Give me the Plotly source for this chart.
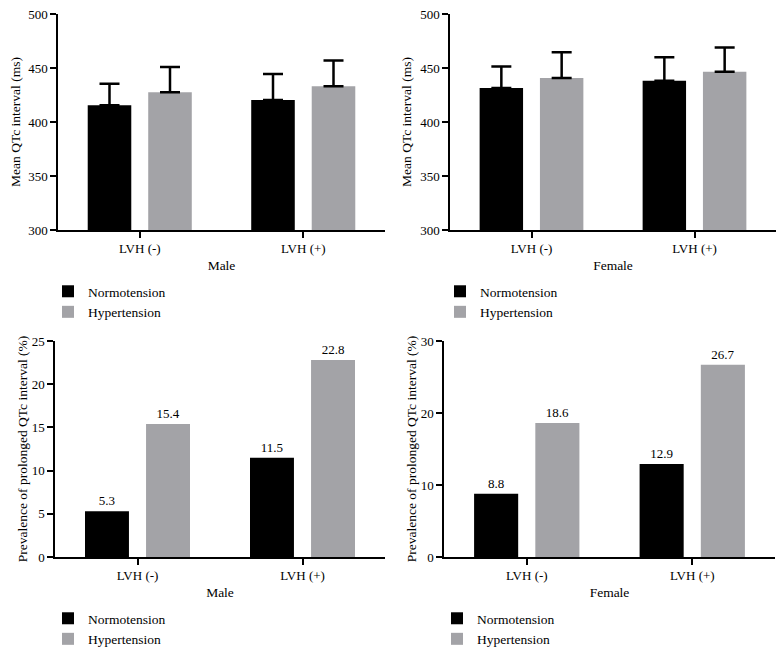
import plotly.graph_objects as go

categories = ["LVH (-)", "LVH (+)"]

# mean QTc interval (ms) with SD (upper error bar only)
male_qtc_normo = [415.5, 420.4]
male_qtc_normo_sd = [20.0, 24.0]
male_qtc_hyper = [427.5, 433.0]
male_qtc_hyper_sd = [23.5, 24.0]
female_qtc_normo = [431.5, 438.3]
female_qtc_normo_sd = [20.0, 21.7]
female_qtc_hyper = [440.7, 446.6]
female_qtc_hyper_sd = [23.8, 22.4]

# prevalence of prolonged QTc interval (%)
male_prev_normo = [5.3, 11.5]
male_prev_hyper = [15.4, 22.8]
female_prev_normo = [8.8, 12.9]
female_prev_hyper = [18.6, 26.7]

BLACK = "#000000"
GRAY = "#A3A3A7"
FONT = "'Liberation Serif', 'Times New Roman', serif"

# the page body has an 8px margin, so the figure is drawn 8px in from the corner
OFF = 8
W, H = 784 - OFF, 655 - OFF


def dom_x(a, b):
    return [(a - OFF) / W, (b - OFF) / W]


def dom_y(top, bottom):
    return [1 - (bottom - OFF) / H, 1 - (top - OFF) / H]


def leg_pos(px, py):
    return dict(x=(px - OFF) / W, y=1 - (py - OFF) / H)


fig = go.Figure()

panels = [
    # xaxis, yaxis, legend, normo, normo_sd, hyper, hyper_sd, labels
    ("x", "y", "legend", male_qtc_normo, male_qtc_normo_sd, male_qtc_hyper, male_qtc_hyper_sd, False),
    ("x2", "y2", "legend2", female_qtc_normo, female_qtc_normo_sd, female_qtc_hyper, female_qtc_hyper_sd, False),
    ("x3", "y3", "legend3", male_prev_normo, None, male_prev_hyper, None, True),
    ("x4", "y4", "legend4", female_prev_normo, None, female_prev_hyper, None, True),
]

for xa, ya, lg, normo, normo_sd, hyper, hyper_sd, labels in panels:
    for name, vals, sd, color in [("Normotension", normo, normo_sd, BLACK),
                                  ("Hypertension", hyper, hyper_sd, GRAY)]:
        tr = dict(
            x=categories, y=vals, name=name, marker=dict(color=color, line=dict(width=0)),
            xaxis=xa, yaxis=ya, legend=lg,
        )
        if sd is not None:
            tr["error_y"] = dict(type="data", symmetric=False, array=sd,
                                 arrayminus=[0] * len(sd), color=BLACK,
                                 thickness=2.5, width=10)
        if labels:
            tr["text"] = [f"{v:.1f}" for v in vals]
            tr["textposition"] = "outside"
            tr["textfont"] = dict(family=FONT, size=13, color=BLACK)
            tr["cliponaxis"] = False
        fig.add_trace(go.Bar(**tr))

axis_common = dict(
    showline=True, linecolor=BLACK, linewidth=1.5, ticks="outside",
    ticklen=6, tickwidth=1.5, tickcolor=BLACK, showgrid=False, zeroline=False,
    ticklabeloverflow="allow",
    tickfont=dict(family=FONT, size=13, color=BLACK),
    title_font=dict(family=FONT, size=13.5, color=BLACK),
)
x_common = dict(range=[-0.5, 1.5], title_standoff=5, **axis_common)

fig.update_layout(
    width=W, height=H,
    margin=dict(l=0, r=0, t=0, b=0, autoexpand=False),
    paper_bgcolor="white", plot_bgcolor="white",
    font=dict(family=FONT, size=13.5, color=BLACK),
    barmode="group", bargap=0.26, bargroupgap=0.28,
    xaxis=dict(domain=dom_x(58, 385), anchor="y", title_text="Male", **x_common),
    yaxis=dict(domain=dom_y(14, 230), anchor="x", range=[300, 500], dtick=50,
               title_text="Mean QTc interval (ms)", title_standoff=5, **axis_common),
    xaxis2=dict(domain=dom_x(450, 776), anchor="y2", title_text="Female", **x_common),
    yaxis2=dict(domain=dom_y(14, 230), anchor="x2", range=[300, 500], dtick=50,
                title_text="Mean QTc interval (ms)", title_standoff=5, **axis_common),
    xaxis3=dict(domain=dom_x(55, 385), anchor="y3", title_text="Male", **x_common),
    yaxis3=dict(domain=dom_y(341, 557), anchor="x3", range=[0, 25], dtick=5,
                title_text="Prevalence of prolonged QTc interval (%)", title_standoff=1,
                **axis_common),
    xaxis4=dict(domain=dom_x(444, 775), anchor="y4", title_text="Female", **x_common),
    yaxis4=dict(domain=dom_y(341, 557), anchor="x4", range=[0, 30], dtick=10,
                title_text="Prevalence of prolonged QTc interval (%)", title_standoff=1,
                **axis_common),
)

legend_common = dict(xanchor="left", yanchor="top", bgcolor="rgba(0,0,0,0)",
                     font=dict(family=FONT, size=13.5, color=BLACK),
                     orientation="v", traceorder="normal")
fig.update_layout(
    legend=dict(**leg_pos(48, 276), **legend_common),
    legend2=dict(**leg_pos(440, 276), **legend_common),
    legend3=dict(**leg_pos(48, 603), **legend_common),
    legend4=dict(**leg_pos(437, 603), **legend_common),
)

fig.write_html("out.html")
